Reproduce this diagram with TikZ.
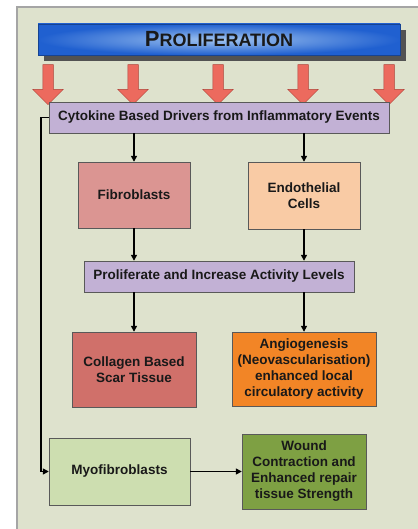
\documentclass[tikz,border=0pt]{standalone}
\usepackage{fontspec}
\setmainfont{Liberation Sans}
\usepackage{tikz}
\usetikzlibrary{shapes.arrows,arrows.meta,positioning,shadows}
\definecolor{panelBg}{RGB}{222,226,205}
\definecolor{panelEdge}{RGB}{165,165,165}
\definecolor{lilac}{RGB}{194,177,213}
\definecolor{fibroPink}{RGB}{219,149,146}
\definecolor{endoPeach}{RGB}{249,203,165}
\definecolor{scarRed}{RGB}{208,112,106}
\definecolor{angioOrange}{RGB}{242,133,38}
\definecolor{myoGreen}{RGB}{205,222,176}
\definecolor{woundGreen}{RGB}{126,160,67}
\definecolor{pushRed}{RGB}{236,106,94}
\definecolor{pushEdge}{RGB}{175,65,55}
\definecolor{bannerBlue}{RGB}{32,96,208}
\definecolor{bannerLight}{RGB}{160,196,240}
\tikzset{
  banner/.style={draw=bannerBlue!70!black,minimum width=362pt,minimum height=31pt,
                 inner color=bannerLight,outer color=bannerBlue,
                 drop shadow={shadow xshift=6pt,shadow yshift=-6pt,fill=black!68,opacity=1}},
  bar/.style={draw=black!65,fill=lilac,minimum height=31pt,align=center},
  cell/.style={draw=black!65,align=center},
  push/.style={single arrow,draw=pushEdge,fill=pushRed,rotate=-90,minimum height=40pt,
               minimum width=30pt,single arrow head extend=10pt,inner xsep=0pt,inner ysep=5pt,
               line width=0.5pt},
  arr/.style={-{Triangle[length=6pt,width=6pt]},line width=1.4pt},
}

\begin{document}
\begin{tikzpicture}[x=1pt,y=-1pt,font=\fontsize{13.5}{16}\selectfont\bfseries,text=black!90]
  \useasboundingbox (0,0) rectangle (417,529);
  \fill[panelBg] (17,7) rectangle (430,540);
  \draw[panelEdge,line width=1.5pt] (17,540) -- (17,7) -- (430,7);

  \node[banner] (title) at (219,39.5)
    {{\fontsize{22}{22}\selectfont P}{\fontsize{18}{18}\selectfont ROLIFERATION}};

  \node[push] (p1) at (48,82) {};
  \node[push] (p2) at (133,82) {};
  \node[push] (p3) at (218,82) {};
  \node[push] (p4) at (303,82) {};
  \node[push] (p5) at (389,82) {};

  \node[bar,minimum width=340pt] (drivers) at (219,117.5)
    {Cytokine Based Drivers from Inflammatory Events};

  \node[cell,fill=fibroPink,minimum width=112pt,minimum height=66pt] (fibro) at (134,195)
    {Fibroblasts};
  \node[cell,fill=endoPeach,minimum width=112pt,minimum height=67pt] (endo) at (304,195.5)
    {Endothelial\\Cells};

  \node[bar,minimum width=270pt] (activity) at (219,276.5)
    {Proliferate and Increase Activity Levels};

  \node[cell,fill=scarRed,minimum width=124pt,minimum height=75pt] (scar) at (134,369.5)
    {Collagen Based\\Scar Tissue};
  \node[cell,fill=angioOrange,minimum width=144pt,minimum height=74pt] (angio) at (304,369)
    {Angiogenesis\\(Neovascularisation)\\enhanced local\\circulatory activity};

  \node[cell,fill=myoGreen,minimum width=141pt,minimum height=67pt] (myo) at (119.5,471.5)
    {Myofibroblasts};
  \node[cell,fill=woundGreen,minimum width=124pt,minimum height=75pt] (wound) at (304,471.5)
    {Wound\\Contraction and\\Enhanced repair\\tissue Strength};

  \draw[arr] (drivers.south -| fibro) -- (fibro.north);
  \draw[arr] (drivers.south -| endo) -- (endo.north);
  \draw[arr] (fibro.south) -- (activity.north -| fibro);
  \draw[arr] (endo.south) -- (activity.north -| endo);
  \draw[arr] (activity.south -| scar) -- (scar.north);
  \draw[arr] (activity.south -| angio) -- (angio.north);
  \draw[arr] (drivers.west) -- ++(-8,0) |- (myo.west);
  \draw[arr] (myo.east) -- (wound.west);
\end{tikzpicture}
\end{document}
